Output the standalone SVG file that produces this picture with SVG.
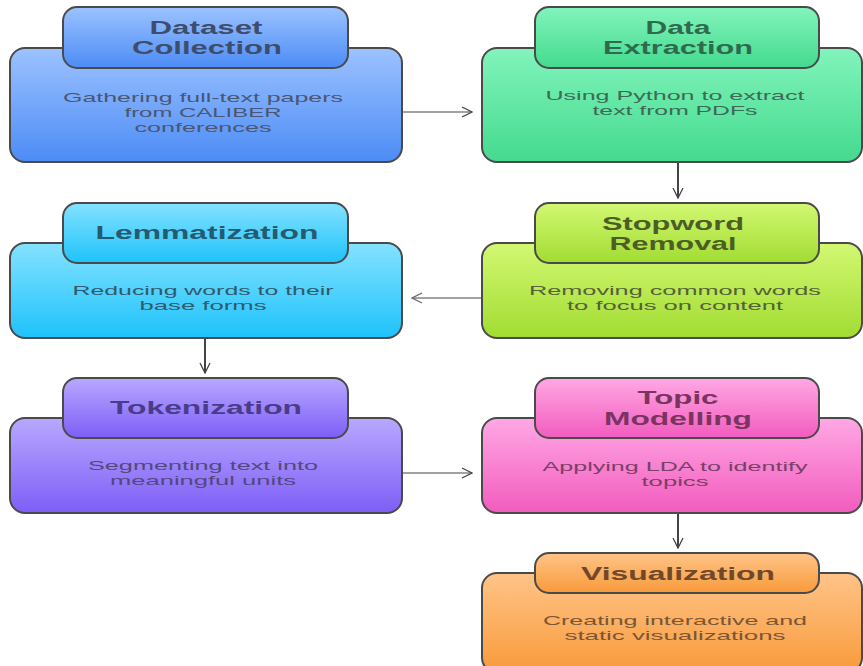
<svg xmlns="http://www.w3.org/2000/svg" width="863" height="666" viewBox="0 0 863 666">
<defs>
<linearGradient id="gBlue" x1="0" y1="0" x2="0" y2="1"><stop offset="0" stop-color="#9cc2ff"/><stop offset="1" stop-color="#4c8cf6"/></linearGradient>
<linearGradient id="gGreen" x1="0" y1="0" x2="0" y2="1"><stop offset="0" stop-color="#82f4bc"/><stop offset="1" stop-color="#44da8e"/></linearGradient>
<linearGradient id="gCyan" x1="0" y1="0" x2="0" y2="1"><stop offset="0" stop-color="#84e2ff"/><stop offset="1" stop-color="#1ec2fb"/></linearGradient>
<linearGradient id="gLime" x1="0" y1="0" x2="0" y2="1"><stop offset="0" stop-color="#d2f872"/><stop offset="1" stop-color="#a2dc32"/></linearGradient>
<linearGradient id="gPurple" x1="0" y1="0" x2="0" y2="1"><stop offset="0" stop-color="#b8a8ff"/><stop offset="1" stop-color="#7e5ef6"/></linearGradient>
<linearGradient id="gPink" x1="0" y1="0" x2="0" y2="1"><stop offset="0" stop-color="#ffa8e4"/><stop offset="1" stop-color="#f25cbe"/></linearGradient>
<linearGradient id="gOrange" x1="0" y1="0" x2="0" y2="1"><stop offset="0" stop-color="#ffc488"/><stop offset="1" stop-color="#f89a3a"/></linearGradient>
<marker id="arr" viewBox="0 0 12 12" refX="11" refY="6" markerWidth="12" markerHeight="12" markerUnits="userSpaceOnUse" orient="auto">
<path d="M1,1 L11,6 L1,11" fill="none" stroke="#444" stroke-width="1.3"/>
</marker>
<marker id="arrL" viewBox="0 0 12 12" refX="11" refY="6" markerWidth="12" markerHeight="12" markerUnits="userSpaceOnUse" orient="auto">
<path d="M1,1 L11,6 L1,11" fill="none" stroke="#666" stroke-width="1.3"/>
</marker>
</defs>
<style>
.box{stroke:#4a4a4a;stroke-width:2}
.t{font-family:"Liberation Sans",Arial,sans-serif;font-weight:bold;font-size:18px;text-anchor:middle}
.b{font-family:"Liberation Sans",Arial,sans-serif;font-size:13px;text-anchor:middle}
.c{fill:none;stroke:#444}
</style>
<rect width="863" height="666" fill="#ffffff"/>

<g id="connectors">
<line class="c" x1="402" y1="112" x2="472" y2="112" stroke-width="1" marker-end="url(#arr)"/>
<line class="c" x1="678" y1="163" x2="678" y2="198" stroke-width="2" marker-end="url(#arr)"/>
<line class="c" x1="482" y1="298" x2="412" y2="298" stroke-width="1" stroke="#888" marker-end="url(#arrL)"/>
<line class="c" x1="205" y1="338" x2="205" y2="373" stroke-width="2" marker-end="url(#arr)"/>
<line class="c" x1="402" y1="473" x2="472" y2="473" stroke-width="1" marker-end="url(#arr)"/>
<line class="c" x1="678" y1="513" x2="678" y2="548" stroke-width="2" marker-end="url(#arr)"/>
</g>

<g id="dataset-collection">
<rect class="box" x="10" y="48" width="392" height="114" rx="15" fill="url(#gBlue)"/>
<rect class="box" x="63" y="7" width="285" height="61" rx="14" fill="url(#gBlue)"/>
<text class="t" fill="#3e4d6c" x="206" y="34" textLength="113" lengthAdjust="spacingAndGlyphs">Dataset</text>
<text class="t" fill="#3e4d6c" x="207" y="54" textLength="150" lengthAdjust="spacingAndGlyphs">Collection</text>
<text class="b" fill="#4a5674" x="203" y="102" textLength="280" lengthAdjust="spacingAndGlyphs">Gathering full-text papers</text>
<text class="b" fill="#4a5674" x="203" y="117" textLength="157" lengthAdjust="spacingAndGlyphs">from CALIBER</text>
<text class="b" fill="#4a5674" x="203" y="132" textLength="137" lengthAdjust="spacingAndGlyphs">conferences</text>
</g>

<g id="data-extraction">
<rect class="box" x="482" y="48" width="380" height="114" rx="15" fill="url(#gGreen)"/>
<rect class="box" x="535" y="7" width="284" height="61" rx="14" fill="url(#gGreen)"/>
<text class="t" fill="#2f6a4e" x="678" y="34" textLength="65" lengthAdjust="spacingAndGlyphs">Data</text>
<text class="t" fill="#2f6a4e" x="678" y="54" textLength="150" lengthAdjust="spacingAndGlyphs">Extraction</text>
<text class="b" fill="#3c6a56" x="675" y="100" textLength="259" lengthAdjust="spacingAndGlyphs">Using Python to extract</text>
<text class="b" fill="#3c6a56" x="675" y="115" textLength="165" lengthAdjust="spacingAndGlyphs">text from PDFs</text>
</g>

<g id="lemmatization">
<rect class="box" x="10" y="243" width="392" height="95" rx="15" fill="url(#gCyan)"/>
<rect class="box" x="63" y="203" width="285" height="60" rx="14" fill="url(#gCyan)"/>
<text class="t" fill="#255a70" x="207" y="239" textLength="223" lengthAdjust="spacingAndGlyphs">Lemmatization</text>
<text class="b" fill="#315a6c" x="203" y="295" textLength="261" lengthAdjust="spacingAndGlyphs">Reducing words to their</text>
<text class="b" fill="#315a6c" x="203" y="310" textLength="127" lengthAdjust="spacingAndGlyphs">base forms</text>
</g>

<g id="stopword-removal">
<rect class="box" x="482" y="243" width="380" height="95" rx="15" fill="url(#gLime)"/>
<rect class="box" x="535" y="203" width="284" height="60" rx="14" fill="url(#gLime)"/>
<text class="t" fill="#4c5e26" x="673" y="230" textLength="142" lengthAdjust="spacingAndGlyphs">Stopword</text>
<text class="t" fill="#4c5e26" x="673" y="250" textLength="127" lengthAdjust="spacingAndGlyphs">Removal</text>
<text class="b" fill="#55613a" x="675" y="295" textLength="292" lengthAdjust="spacingAndGlyphs">Removing common words</text>
<text class="b" fill="#55613a" x="675" y="310" textLength="216" lengthAdjust="spacingAndGlyphs">to focus on content</text>
</g>

<g id="tokenization">
<rect class="box" x="10" y="418" width="392" height="95" rx="15" fill="url(#gPurple)"/>
<rect class="box" x="63" y="378" width="285" height="60" rx="14" fill="url(#gPurple)"/>
<text class="t" fill="#4a3c8a" x="206" y="414" textLength="192" lengthAdjust="spacingAndGlyphs">Tokenization</text>
<text class="b" fill="#54487e" x="203" y="470" textLength="230" lengthAdjust="spacingAndGlyphs">Segmenting text into</text>
<text class="b" fill="#54487e" x="203" y="485" textLength="186" lengthAdjust="spacingAndGlyphs">meaningful units</text>
</g>

<g id="topic-modelling">
<rect class="box" x="482" y="418" width="380" height="95" rx="15" fill="url(#gPink)"/>
<rect class="box" x="535" y="378" width="284" height="60" rx="14" fill="url(#gPink)"/>
<text class="t" fill="#7a3462" x="678" y="404" textLength="81" lengthAdjust="spacingAndGlyphs">Topic</text>
<text class="t" fill="#7a3462" x="678" y="425" textLength="148" lengthAdjust="spacingAndGlyphs">Modelling</text>
<text class="b" fill="#7a4068" x="675" y="471" textLength="265" lengthAdjust="spacingAndGlyphs">Applying LDA to identify</text>
<text class="b" fill="#7a4068" x="675" y="486" textLength="67" lengthAdjust="spacingAndGlyphs">topics</text>
</g>

<g id="visualization">
<rect class="box" x="482" y="573" width="380" height="100" rx="15" fill="url(#gOrange)"/>
<rect class="box" x="535" y="553" width="284" height="40" rx="14" fill="url(#gOrange)"/>
<text class="t" fill="#70482a" x="678" y="580" textLength="194" lengthAdjust="spacingAndGlyphs">Visualization</text>
<text class="b" fill="#7a5636" x="675" y="625" textLength="264" lengthAdjust="spacingAndGlyphs">Creating interactive and</text>
<text class="b" fill="#7a5636" x="675" y="640" textLength="221" lengthAdjust="spacingAndGlyphs">static visualizations</text>
</g>
</svg>
